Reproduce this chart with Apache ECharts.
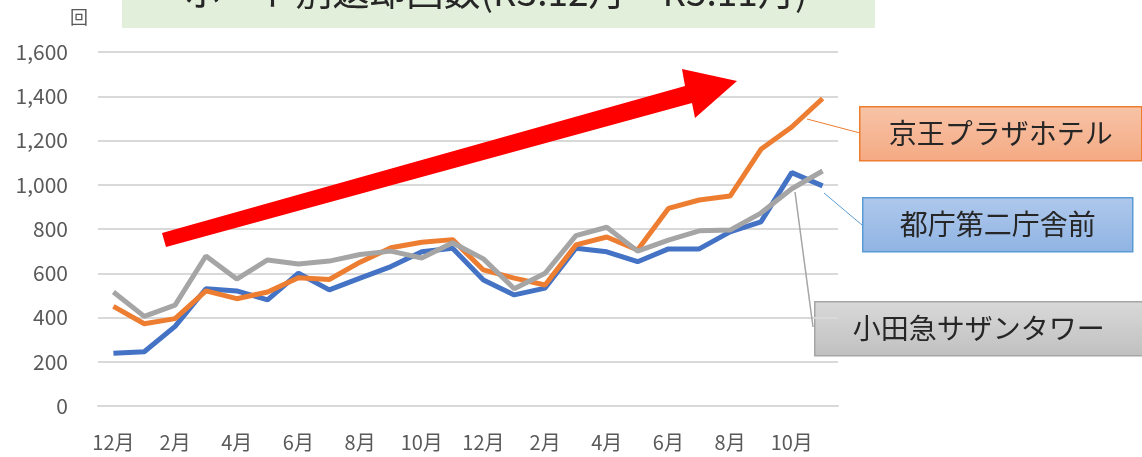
<!DOCTYPE html>
<html>
<head>
<meta charset="utf-8">
<script src="https://cdn.jsdelivr.net/npm/echarts@6/dist/echarts.min.js"></script>
<style>
  html, body { margin: 0; padding: 0; background: #fff; }
  #chart { width: 1142px; height: 457px; }
</style>
</head>
<body>
<div id="chart"></div>
<script>
// R3.12 ～ R5.11
const months = ['12月', '1月', '2月', '3月', '4月', '5月', '6月', '7月', '8月', '9月', '10月', '11月',
  '12月', '1月', '2月', '3月', '4月', '5月', '6月', '7月', '8月', '9月', '10月', '11月']

const tochoValues = [238, 245, 360, 530, 520, 480, 600, 525, 578, 630, 697, 713,
  570, 502, 533, 713, 697, 652, 710, 710, 787, 832, 1055, 995]
const keioValues = [450, 372, 395, 520, 485, 515, 580, 572, 650, 715, 740, 752,
  615, 578, 547, 728, 764, 705, 893, 931, 949, 1160, 1261, 1390]
const odakyuValues = [515, 405, 456, 678, 574, 660, 642, 655, 685, 700, 669, 738,
  665, 530, 600, 770, 808, 700, 750, 792, 795, 872, 982, 1062]

const seriesNames = ['都庁第二庁舎前', '京王プラザホテル', '小田急サザンタワー']
const yTicks = [0, 1600, 200]

const FONT = '"Noto Sans CJK JP", "Noto Sans", sans-serif'

const chart = echarts.init(document.getElementById('chart'))

// 凡例代わりのラベルボックス
const labelBox = (x, y, w, text, top, bottom, border, z) => ({
  type: 'group',
  left: x,
  top: y,
  z: z,
  children: [
    {
      type: 'rect',
      shape: { x: 0, y: 0, width: w, height: 54 },
      style: {
        fill: new echarts.graphic.LinearGradient(0, 0, 0, 1, [
          { offset: 0, color: top },
          { offset: 1, color: bottom }
        ]),
        stroke: border,
        lineWidth: 1.5
      }
    },
    {
      type: 'text',
      x: w / 2,
      y: 27,
      style: {
        text: text,
        font: '28px ' + FONT,
        fill: '#262626',
        align: 'center',
        verticalAlign: 'middle'
      }
    }
  ]
})

chart.setOption({
  animation: false,
  grid: { left: 98, right: 304, top: 52, bottom: 51 },
  xAxis: {
    type: 'category',
    data: months,
    axisTick: { show: false },
    axisLine: { lineStyle: { color: '#D9D9D9', width: 2 } },
    axisLabel: {
      interval: 1,
      color: '#595959',
      fontSize: 20,
      fontFamily: FONT,
      margin: 26
    }
  },
  yAxis: {
    type: 'value',
    min: yTicks[0],
    max: yTicks[1],
    interval: yTicks[2],
    axisLine: { show: false },
    axisTick: { show: false },
    splitLine: { lineStyle: { color: '#D9D9D9', width: 2 } },
    axisLabel: {
      color: '#595959',
      fontSize: 21,
      fontFamily: FONT,
      margin: 30,
      formatter: v => v.toLocaleString('en-US')
    }
  },
  series: [
    {
      name: seriesNames[0], type: 'line', data: tochoValues,
      symbol: 'none', lineStyle: { color: '#4472C4', width: 5 }, z: 2
    },
    {
      name: seriesNames[1], type: 'line', data: keioValues,
      symbol: 'none', lineStyle: { color: '#ED7D31', width: 5 }, z: 3
    },
    {
      name: seriesNames[2], type: 'line', data: odakyuValues,
      symbol: 'none', lineStyle: { color: '#A5A5A5', width: 5 }, z: 4
    }
  ],
  graphic: [
    // タイトル（上が切れている）
    {
      type: 'rect',
      shape: { x: 122, y: 0, width: 753, height: 28 },
      style: { fill: '#E2EFDA' },
      z: 1
    },
    {
      type: 'text',
      x: 496,
      y: -8,
      z: 2,
      style: {
        text: 'ポート別返却回数(R3.12月～R5.11月)',
        font: '37px ' + FONT,
        fill: '#262626',
        align: 'center',
        verticalAlign: 'middle'
      }
    },
    {
      type: 'text',
      x: 70,
      y: 17,
      style: { text: '回', font: '18px ' + FONT, fill: '#595959', verticalAlign: 'middle' }
    },
    // 赤い矢印
    {
      type: 'polygon',
      z: 10,
      shape: {
        points: [[162, 233], [685, 86], [682, 69], [737, 81], [695, 118], [692, 103], [166, 247]]
      },
      style: { fill: '#FF0000' }
    },
    // 引き出し線
    { type: 'line', z: 5, shape: { x1: 807, y1: 119, x2: 860, y2: 133 }, style: { stroke: '#ED7D31', lineWidth: 1 } },
    { type: 'line', z: 5, shape: { x1: 824, y1: 193, x2: 862, y2: 225 }, style: { stroke: '#5B9BD5', lineWidth: 1 } },
    { type: 'line', z: 5, shape: { x1: 795, y1: 192, x2: 813, y2: 327 }, style: { stroke: '#A5A5A5', lineWidth: 1.5 } },
    labelBox(859, 106, 282, seriesNames[1], '#F8C4A8', '#F4A983', '#ED7D31', 6),
    labelBox(862, 197, 270, seriesNames[0], '#AFC8EC', '#8FB4E3', '#5B9BD5', 6),
    labelBox(814, 301, 328, seriesNames[2], '#D9D9D9', '#C0C0C0', '#A5A5A5', 6)
  ]
})
</script>
</body>
</html>
